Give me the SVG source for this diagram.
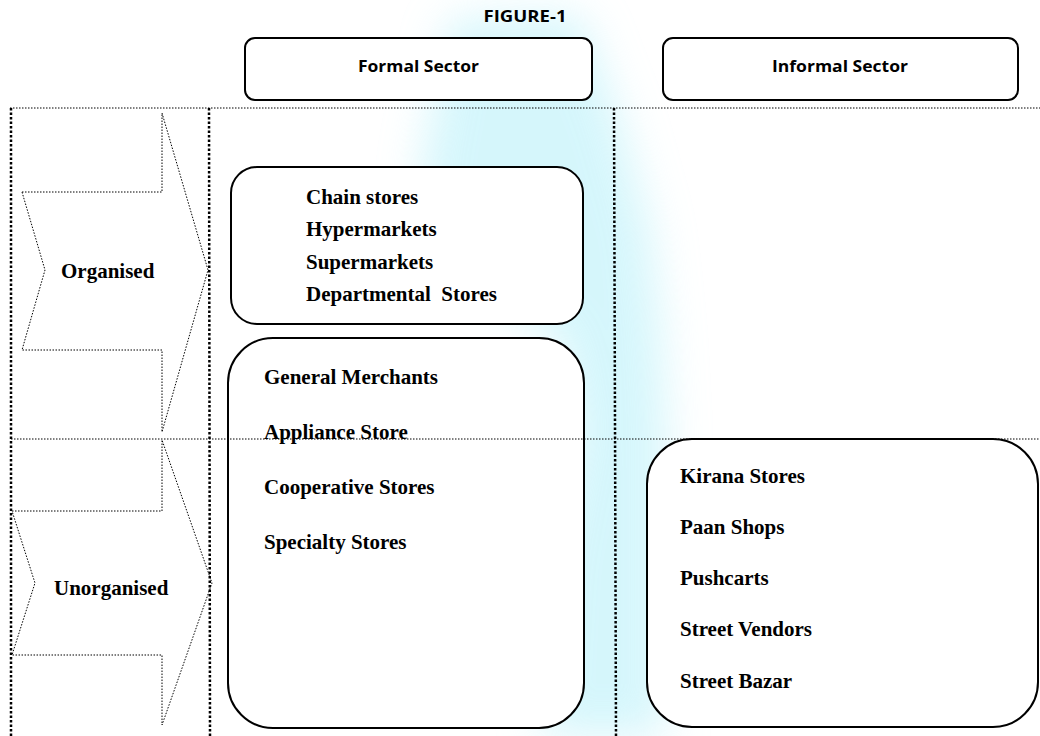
<svg xmlns="http://www.w3.org/2000/svg" width="1040" height="736" viewBox="0 0 1040 736">
<style>
.box{fill:#fff;stroke:#000;stroke-width:2}
.hdr{font-family:"Open Sans","Liberation Sans",Arial,sans-serif;font-weight:bold;font-size:16px;fill:#000;text-anchor:middle}
.item{font-family:"Liberation Serif","Times New Roman",serif;font-weight:bold;font-size:21px;fill:#000;white-space:pre}
.thick{fill:none;stroke:#000;stroke-width:2.5;stroke-dasharray:2.5 2}
.thin{fill:none;stroke:#000;stroke-width:1;stroke-dasharray:1.5 1.5}
</style>
<defs>
<filter id="blur" x="-50%" y="-50%" width="200%" height="200%"><feGaussianBlur stdDeviation="22"/></filter>
</defs>
<rect width="1040" height="736" fill="#fff"/>
<g id="watermark" filter="url(#blur)" fill="#bff2fa" opacity="0.65">
<path d="M450,20 L580,15 L620,120 L650,230 L660,330 L665,420 L665,736 L540,736 L550,560 L575,430 L560,340 L500,300 L440,250 L420,180 Z"/>
</g>
<g id="figure-title"><text class="hdr" x="525" y="22" textLength="83" lengthAdjust="spacingAndGlyphs">FIGURE-1</text></g>
<g id="formal-sector"><rect class="box" x="245" y="38" width="347" height="62" rx="10"/><text class="hdr" x="418.5" y="72" textLength="121" lengthAdjust="spacingAndGlyphs">Formal Sector</text></g>
<g id="informal-sector"><rect class="box" x="663" y="38" width="355" height="62" rx="10"/><text class="hdr" x="840" y="72" textLength="136" lengthAdjust="spacingAndGlyphs">Informal Sector</text></g>
<g id="organised"><polygon class="thin" points="22,192 162,192 162,113 208,270 162,432 162,350 22,350 45,270"/><text class="item" x="61" y="278">Organised</text></g>
<g id="unorganised"><polygon class="thin" points="12,511 162,511 162,440 212,583 162,725 162,655 12,655 35,583"/><text class="item" x="54" y="595">Unorganised</text></g>
<g id="organised-formal"><rect class="box" x="231" y="167" width="352" height="157" rx="26"/>
<text class="item" x="306" y="204">Chain stores</text>
<text class="item" x="306" y="236">Hypermarkets</text>
<text class="item" x="306" y="269">Supermarkets</text>
<text class="item" x="306" y="301">Departmental  Stores</text></g>
<g id="unorganised-formal"><rect class="box" x="228" y="338" width="356" height="390" rx="45"/>
<text class="item" x="264" y="384">General Merchants</text>
<text class="item" x="264" y="439">Appliance Store</text>
<text class="item" x="264" y="494">Cooperative Stores</text>
<text class="item" x="264" y="549">Specialty Stores</text></g>
<g id="unorganised-informal"><rect class="box" x="647" y="439" width="391" height="288" rx="45"/>
<text class="item" x="680" y="483">Kirana Stores</text>
<text class="item" x="680" y="534">Paan Shops</text>
<text class="item" x="680" y="585">Pushcarts</text>
<text class="item" x="680" y="636">Street Vendors</text>
<text class="item" x="680" y="688">Street Bazar</text></g>
<g id="connectors">
<line class="thin" x1="10" y1="108" x2="1040" y2="108"/>
<line class="thin" x1="11" y1="439" x2="1040" y2="439"/>
<line class="thick" x1="11" y1="108" x2="11" y2="736"/>
<line class="thick" x1="209" y1="108" x2="210" y2="736"/>
<line class="thick" x1="614" y1="108" x2="616" y2="736"/>
</g>
</svg>
